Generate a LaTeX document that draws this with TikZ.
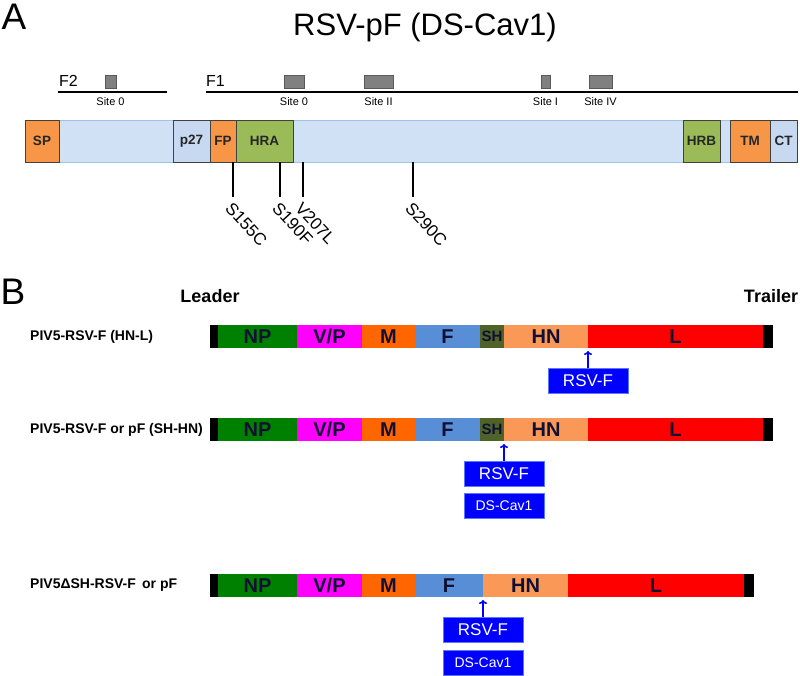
\documentclass[tikz,border=0pt]{standalone}
\usepackage{fontspec}
\setmainfont{Liberation Sans}
\usetikzlibrary{arrows.meta}

\definecolor{barblue}{RGB}{208,225,245}
\definecolor{barline}{RGB}{157,195,230}
\definecolor{domorange}{RGB}{247,150,70}
\definecolor{domgreen}{RGB}{155,187,89}
\definecolor{domblue}{RGB}{198,217,241}
\definecolor{domline}{RGB}{64,64,64}
\definecolor{sitegray}{RGB}{128,128,128}
\definecolor{npgreen}{RGB}{0,128,0}
\definecolor{vpmag}{RGB}{255,0,255}
\definecolor{morange}{RGB}{255,102,0}
\definecolor{fblue}{RGB}{88,142,213}
\definecolor{sholive}{RGB}{79,98,40}
\definecolor{hnpeach}{RGB}{250,152,88}
\definecolor{lred}{RGB}{255,0,0}
\definecolor{segtext}{RGB}{16,16,52}
\definecolor{insblue}{RGB}{0,0,255}
\definecolor{insline}{RGB}{90,120,255}

\newcommand{\fsz}[1]{\fontsize{#1}{#1}\selectfont}

\tikzset{
  seg/.style={anchor=west, inner sep=0pt, outer sep=0pt, minimum height=23pt,
    text=segtext, font=\fsz{20}\bfseries},
  dom/.style={anchor=west, draw=domline, line width=0.8pt, inner sep=0pt,
    outer sep=0pt, minimum height=42pt, font=\fsz{13.5}\bfseries, text=black!85},
  site/.style={draw=black!65, fill=sitegray, line width=0.6pt},
  sitelab/.style={font=\fsz{11}},
  fline/.style={line width=2pt},
  mut/.style={line width=2.4pt},
  mutlab/.style={anchor=west, rotate=-47, inner sep=0pt, font=\fsz{17}},
  rowlab/.style={anchor=west, inner sep=0pt, font=\fsz{14}\bfseries},
  insert/.style={fill=insblue, draw=insline, line width=0.6pt, inner sep=0pt,
    minimum width=80pt, minimum height=25pt, text=white},
  ins/.style={insblue, line width=1.6pt, shorten >=3pt, -{To[length=4pt,width=8pt]}}
}

\begin{document}
\begin{tikzpicture}[x=1pt, y=-1pt]
\useasboundingbox (0,0) rectangle (800,675);

% panel A
\node (lblA) at (14,17) {\fsz{37}A};
\node (title) at (425,27) {\fsz{31}RSV-pF (DS-Cav1)};

\node[anchor=west, inner sep=0pt] (f2) at (59,81) {\fsz{16}F2};
\node[anchor=west, inner sep=0pt] (f1) at (206,81) {\fsz{16}F1};
\draw[fline] (58,91.5) -- (167,91.5);
\draw[fline] (206,91.5) -- (798,91.5);
\foreach \a/\b/\t [count=\i] in {105/116/Site 0, 284/304/Site 0, 364/393/Site II,
    541/550/Site I, 589/612/Site IV} {
  \draw[site] (\a,75) rectangle (\b,88);
  \node[sitelab] (site\i) at ({(\a+\b)/2},102) {\t};
}

\node[anchor=west, draw=barline, fill=barblue, line width=0.8pt, inner sep=0pt,
  minimum width=772pt, minimum height=42pt] (fbar) at (25,141) {};
\foreach \a/\b/\c/\t in {25/59/domorange/SP, 173/210/domblue/p27, 210/236/domorange/FP,
    236/293/domgreen/HRA, 683/720/domgreen/HRB, 730/770/domorange/TM, 770/797/domblue/CT}
  \node[dom, fill=\c, minimum width={(\b-\a)*1pt}] (d-\t) at (\a,141) {\t};

\foreach \x/\t in {233/S155C, 280/S190F, 303/V207L, 413/S290C} {
  \draw[mut] (fbar.south -| \x,0) -- ++(0,35) coordinate (e-\t);
  \node[mutlab] (m-\t) at ([shift={(-4.5,7.5)}]e-\t) {\t};
}

% panel B
\node (lblB) at (13,292) {\fsz{37}B};
\node (leader) at (210,296) {\fsz{18}\bfseries Leader};
\node (trailer) at (771,296) {\fsz{18}\bfseries Trailer};

\node[rowlab] (rowa) at (30,336.5) {PIV5-RSV-F (HN-L)};
\node[rowlab] (rowb) at (30,429.5) {PIV5-RSV-F or pF (SH-HN)};
\node[rowlab] (rowc) at (30,585.5) {PIV5ΔSH-RSV-F\, or pF};

\foreach \y/\r in {336.5/ra, 429.5/rb}
  \foreach \a/\b/\c/\t [count=\i] in {210/218/black/{}, 218/297/npgreen/NP,
      297/362/vpmag/{V/P}, 362/415/morange/M, 415/480/fblue/F,
      480/504/sholive/{\fsz{15}SH}, 504/588/hnpeach/HN, 588/763/lred/L, 763/773/black/{}}
    \node[seg, fill=\c, minimum width={(\b-\a)*1pt}] (\r\i) at (\a,\y) {\t};

\foreach \a/\b/\c/\t [count=\i] in {210/218/black/{}, 218/297/npgreen/NP,
    297/362/vpmag/{V/P}, 362/415/morange/M, 415/483/fblue/F,
    483/568/hnpeach/HN, 568/744/lred/L, 744/754/black/{}}
  \node[seg, fill=\c, minimum width={(\b-\a)*1pt}] (rc\i) at (\a,585.5) {\t};

\node[insert] (rsva) at (588,380.5) {\fsz{17}RSV-F};
\draw[ins] (rsva.north) -- (ra7.south east);

\node[insert] (rsvb) at (504,474) {\fsz{17}RSV-F};
\node[insert] (dsb) at (504,505.5) {\fsz{14}DS-Cav1};
\draw[ins] (rsvb.north) -- (rb6.south east);

\node[insert] (rsvc) at (483,629.5) {\fsz{17}RSV-F};
\node[insert] (dsc) at (483,662.5) {\fsz{14}DS-Cav1};
\draw[ins] (rsvc.north) -- (rc5.south east);
\end{tikzpicture}
\end{document}
